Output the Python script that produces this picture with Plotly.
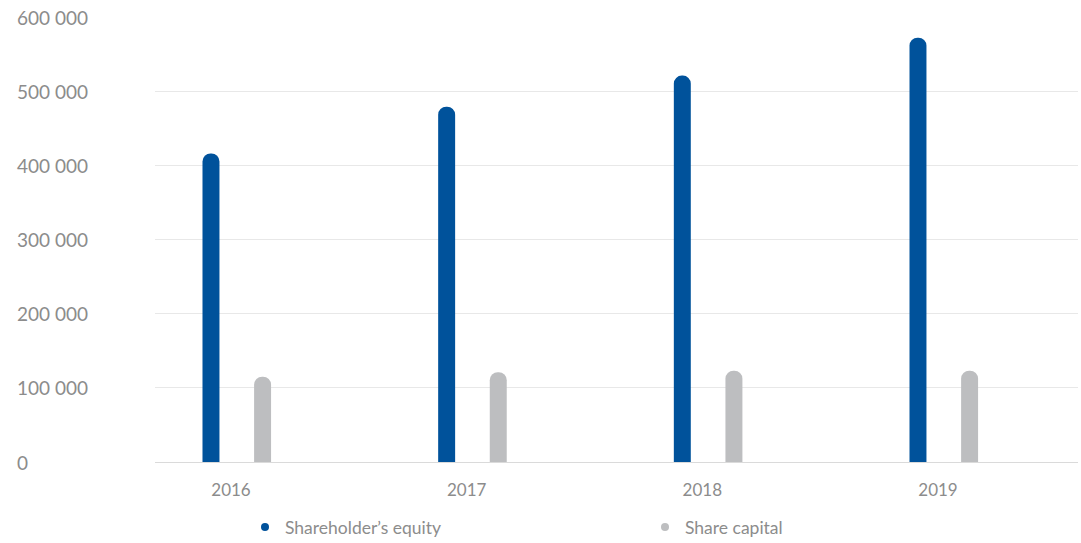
import plotly.graph_objects as go

years = ["2016", "2017", "2018", "2019"]
equity = [416000, 479000, 521000, 572000]
share_capital = [115000, 121000, 123000, 123000]
y_ticks = [0, 100000, 200000, 300000, 400000, 500000, 600000]
y_tick_labels = ["0", "100 000", "200 000", "300 000", "400 000", "500 000", "600 000"]

BLUE = "#00529B"
GRAY = "#BDBEC0"
TEXT = "#8C8C8C"
FONT = "Lato, Open Sans, sans-serif"

fig = go.Figure()
bw = 0.072
fig.add_trace(go.Bar(x=years, y=equity, width=bw, offset=-0.085 - bw / 2,
                     marker=dict(color=BLUE, cornerradius="50%", line=dict(width=0)),
                     showlegend=False, hoverinfo="skip"))
fig.add_trace(go.Bar(x=years, y=share_capital, width=bw, offset=0.134 - bw / 2,
                     marker=dict(color=GRAY, cornerradius="50%", line=dict(width=0)),
                     showlegend=False, hoverinfo="skip"))
# legend entries with round markers
fig.add_trace(go.Scatter(x=[None], y=[None], mode="markers", name="Shareholder’s equity",
                         marker=dict(color=BLUE, size=8, symbol="circle")))
fig.add_trace(go.Scatter(x=[None], y=[None], mode="markers", name="Share capital",
                         marker=dict(color=GRAY, size=8, symbol="circle")))

L, R, T, B = 155, 3, 17, 81
W, H = 1081, 543
pw = W - L - R

for v, lab in zip(y_ticks, y_tick_labels):
    fig.add_annotation(x=(15 - L) / pw, xref="paper", y=v, yref="y", text=lab,
                       showarrow=False, xanchor="left", yanchor="middle",
                       font=dict(family=FONT, size=19, color=TEXT))

fig.update_layout(
    width=W, height=H,
    margin=dict(l=L, r=R, t=T, b=B, autoexpand=False),
    paper_bgcolor="white", plot_bgcolor="white",
    barmode="overlay",
    font=dict(family=FONT, size=17, color=TEXT),
    xaxis=dict(type="category", range=[-0.3225, 3.594], showgrid=False,
               showline=False, zeroline=False, ticks="", ticklabelstandoff=16,
               tickfont=dict(size=17, color=TEXT), fixedrange=True),
    yaxis=dict(range=[0, 600000], tickvals=y_ticks, showticklabels=False,
               showgrid=True, gridcolor="#E8E8E8", gridwidth=1,
               zeroline=True, zerolinecolor="#DADADA", zerolinewidth=1,
               showline=False, fixedrange=True),
    legend=dict(orientation="h", x=(245 - L) / pw, xanchor="left",
                y=-(527 - 462) / (H - T - B), yanchor="middle",
                entrywidth=355, itemwidth=30,
                font=dict(family=FONT, size=17.5, color=TEXT),
                bgcolor="rgba(0,0,0,0)"),
    hovermode=False,
)

fig.write_html("out.html")
